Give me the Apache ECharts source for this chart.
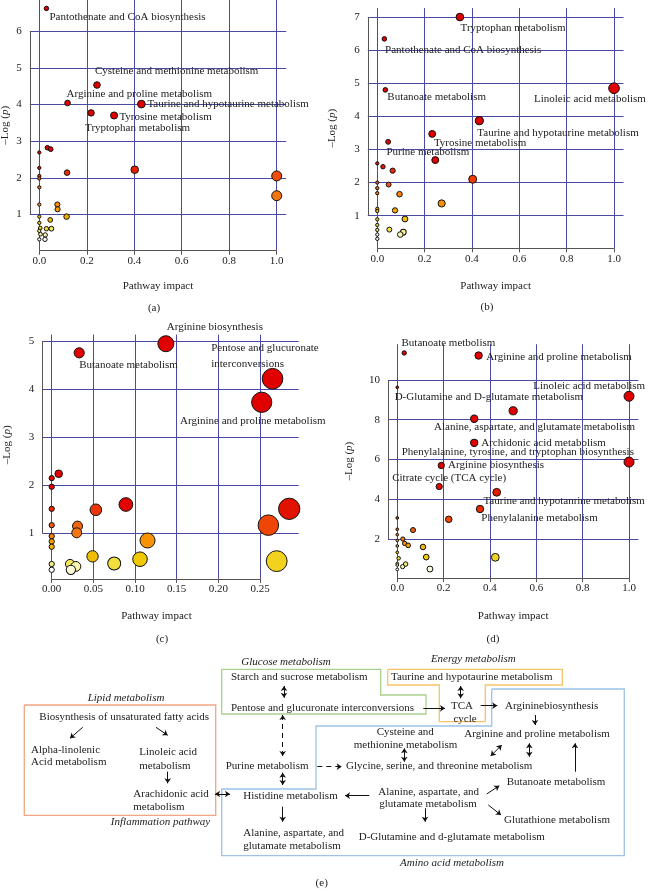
<!DOCTYPE html>
<html>
<head>
<meta charset="utf-8">
<script src="https://cdn.jsdelivr.net/npm/echarts@6/dist/echarts.min.js"></script>
<style>
html, body { margin: 0; padding: 0; background: #fff; }
#chart { width: 648px; height: 889px; }
</style>
</head>
<body>
<div id="chart"></div>
<script>
// ---------- data ----------
// (a)
const impactA = [0.03, 0.243, 0.119, 0.43, 0.218, 0.315, 0.034, 0.048, 0, 0, 0, 0, 0, 0.117, 0.402, 1.0, 1.0, 0, 0.076, 0.077, 0.115, 0, 0.046, 0, 0.004, 0.03, 0.051, 0, 0.005, 0.025, 0, 0.024];
const logpA = [6.62, 4.53, 4.04, 4.01, 3.77, 3.70, 2.82, 2.78, 2.69, 2.27, 2.05, 1.98, 1.74, 2.14, 2.22, 2.05, 1.51, 1.27, 1.27, 1.14, 0.94, 0.94, 0.85, 0.77, 0.63, 0.61, 0.61, 0.55, 0.46, 0.44, 0.32, 0.32];
const namesA = ['Pantothenate and CoA biosynthesis', 'Cysteine and methionine metabolism', 'Arginine and proline metabolism',
    'Taurine and hypotaurine metabolism', 'Tryptophan metabolism', 'Tyrosine metabolism'];
// (b)
const impactB = [0.349, 0.03, 0.034, 1.0, 0.431, 0.232, 0.046, 0.245, 0, 0.024, 0.065, 0.403, 0, 0.048, 0, 0, 0.094, 0.272, 0, 0, 0.075, 0.117, 0, 0, 0.051, 0, 0.11, 0.097, 0, 0];
const logpB = [7.0, 6.34, 4.80, 4.85, 3.87, 3.47, 3.23, 2.68, 2.58, 2.48, 2.36, 2.10, 2.0, 1.94, 1.83, 1.68, 1.65, 1.37, 1.21, 1.14, 1.16, 0.90, 0.89, 0.72, 0.58, 0.57, 0.50, 0.43, 0.43, 0.30];
const namesB = ['Tryptophan metabolism', 'Pantothenate and CoA biosynthesis', 'Butanoate metabolism', 'Linoleic acid metabolism',
    'Taurine and hypotaurine metabolism', 'Tyrosine metabolism', 'Purine metabolism'];
// (c)
const impactC = [0.137, 0.033, 0.265, 0.252, 0.0084, 0, 0, 0.089, 0.285, 0.053, 0, 0.031, 0.26, 0, 0.030, 0, 0, 0, 0.115, 0.049, 0.106, 0.075, 0.27, 0.022, 0.029, 0.023, 0, 0];
const logpC = [4.95, 4.76, 4.22, 3.73, 2.24, 2.15, 1.97, 1.60, 1.51, 1.49, 1.51, 1.15, 1.17, 1.17, 1.01, 0.94, 0.83, 0.72, 0.85, 0.52, 0.46, 0.37, 0.42, 0.36, 0.31, 0.24, 0.36, 0.24];
const namesC = ['Arginine biosynthesis', 'Butanoate metabolism', 'Pentose and glucuronate\ninterconversions', 'Arginine and proline metabolism'];
// (d)
const impactD = [0.03, 0.351, 0, 1.0, 0.5, 0.332, 0.332, 1.0, 0.19, 0.181, 0.429, 0.357, 0.222, 0, 0, 0.068, 0, 0.024, 0, 0.032, 0.047, 0, 0.111, 0, 0.125, 0.423, 0.006, 0, 0.036, 0, 0.023, 0, 0.141];
const logpD = [11.36, 11.23, 9.63, 9.18, 8.45, 8.05, 6.84, 5.87, 5.70, 4.64, 4.35, 3.51, 2.99, 3.06, 2.49, 2.45, 2.22, 2.0, 1.93, 1.78, 1.68, 1.65, 1.60, 1.33, 1.09, 1.08, 1.03, 0.77, 0.74, 0.69, 0.61, 0.47, 0.49];
const namesD = ['Butanoate metbolism', 'Arginine and proline metabolism', 'D-Glutamine and D-glutamate metabolism', 'Linoleic acid metabolism',
    '', 'Alanine, aspartate, and glutamate metabolism', 'Archidonic acid metabolism', 'Phenylalanine, tyrosine, and tryptophan biosynthesis',
    'Arginine biosynthesis', 'Citrate cycle (TCA cycle)', 'Taurine and hypotanrine metabolism', 'Phenylalanine metabolism'];

// tick labels
const xTicksUnit = [0, 0.2, 0.4, 0.6, 0.8, 1.0];
const xTicksC = [0, 0.05, 0.10, 0.15, 0.20, 0.25];
const yTicksA = [1, 2, 3, 4, 5, 6];
const yTicksB = [1, 2, 3, 4, 5, 6, 7];
const yTicksC = [1, 2, 3, 4, 5];
const yTicksD = [2, 4, 6, 8, 10];

// (e) pathway diagram text
const diagramTexts = ['Glucose metabolism', 'Energy metabolism', 'Lipid metabolism', 'Inflammation pathway', 'Amino acid metabolism',
    'Biosynthesis of unsaturated fatty acids', 'Alpha-linolenic', 'Acid metabolism', 'Linoleic acid', 'metabolism', 'Arachidonic acid', 'metabolism',
    'Starch and sucrose metabolism', 'Pentose and glucuronate interconversions', 'Taurine and hypotaurine metabolism', 'TCA', 'cycle',
    'Argininebiosynthesis', 'Arginine and proline metabolism', 'Cysteine and', 'methionine metabolism', 'Purine metabolism',
    'Glycine, serine, and threonine metabolism', 'Histidine metabolism', 'Alanine, aspartate, and', 'glutamate metabolism',
    'Butanoate metabolism', 'Glutathione metabolism', 'D-Glutamine and d-glutamate metabolism', 'Alanine, aspartate, and', 'glutamate metabolism',
    '(a)', '(b)', '(c)', '(d)', '(e)'];

// ---------- layout / style ----------
const serif = "'Liberation Serif','DejaVu Serif',serif";
const FS = 11;
const ink = '#222';
const gridBlue = '#4a4aa6';
const axisGrey = '#555';

// pixel boxes of the four plot regions, axis ranges (R adds 4% on each side), circle size rule, label offsets
const panelLayout = [
    { left: 29.8, top: 0, width: 256.4, height: 250.7, x: [-0.04, 1.04], y: [0.01, 6.85], size: [3.3, 6.7, 0.5],
      xGap: 30, yGap: 19, xPad: [0, 0, 0, 0], yPad: [0, 0, 0, 0],
      off: [[3, 9], [-2, -14], [-1, -9], [6, 0], [-6, 15], [5.3, 1.3]] },
    { left: 367.8, top: 8.1, width: 255.7, height: 240.2, x: [-0.04, 1.04], y: [0.015, 7.27], size: [3.3, 7.4, 0.5],
      xGap: 32, yGap: 30, xPad: [0, 0, 0, 0], yPad: [0, 0, 0, 0],
      off: [[0.7, 10.7], [0.7, 11.3], [2, 7.7], [-80, 11], [-2, 12.7], [1.7, 9.3], [-1.7, 10.7]] },
    { left: 42.2, top: 334.6, width: 256.5, height: 244.3, x: [-0.0114, 0.2964], y: [0.05, 5.14], size: [5.3, 16, 0.55],
      xGap: 32, yGap: 30, xPad: [0, 28, 0, 0], yPad: [0, 0, 0, 24],
      off: [[1, -16.7], [0, 12.7], [-61.3, -22.9], [-81.7, 19]] },
    { left: 388, top: 344.2, width: 250.3, height: 233.9, x: [-0.04, 1.04], y: [0.034, 11.8], size: [2.7, 7.3, 0.42],
      xGap: 33, yGap: 33.5, xPad: [0, 0, 0, 0], yPad: [0, 0, 0, 0],
      off: [[-2.7, -10.3], [7.7, 1.7], [-2.6, 9.3], [-95.7, -10.3], null, [-40.2, 7.9], [7, 0.7], [-227.3, -10], [6.7, 0], [-47, -8], [-13.3, 8.4], [1.3, 9]] }
];

// diagram text anchors: [x, y, align, italic]
const textLayout = [
    [286, 662, 'c', 1], [473.3, 659, 'c', 1], [126, 698, 'c', 1], [160.5, 822.3, 'c', 1], [452, 863.3, 'c', 1],
    [39.3, 716.7, 'l'], [31, 750, 'l'], [31, 761.7, 'l'], [139.3, 751.7, 'l'], [139.3, 765.7, 'l'], [133.3, 794, 'l'], [133.3, 807.3, 'l'],
    [231, 677.3, 'l'], [231, 707.7, 'l'], [391, 677.3, 'l'], [462, 705.7, 'c'], [465, 719.3, 'c'],
    [505, 705.7, 'l'], [464.3, 734.3, 'l'], [405.3, 731.7, 'c'], [405.5, 745, 'c'], [225.7, 765.7, 'l'],
    [346, 765.7, 'l'], [243.3, 795.7, 'l'], [378.3, 791.7, 'l'], [379.3, 804.3, 'l'],
    [506.7, 781.7, 'l'], [504, 820, 'l'], [358.7, 837.3, 'l'], [243.3, 832.7, 'l'], [243.3, 845.7, 'l'],
    [154, 308.3, 'c'], [487, 307, 'c'], [162, 639, 'c'], [493, 639, 'c'], [321.7, 883.3, 'c']
];
// arrows: [x1, y1, x2, y2, kind]  1 = head at end, 2 = both heads, 3 = dashed one head, 4 = dashed both
const arrowLayout = [
    [82.7, 727.3, 70, 738.3, 1], [156, 727.3, 167.7, 735.3, 1], [167.7, 771.7, 167.7, 783.3, 1], [215, 794, 230, 794, 2],
    [284, 686, 284, 697.7, 2], [423.3, 708.3, 445, 708.3, 1], [460.7, 686, 460.7, 698.3, 2], [480.7, 705.7, 497.3, 705.7, 1],
    [535, 715, 535, 725, 1], [404.3, 748.3, 404.3, 761.7, 2], [490.7, 756, 501.7, 745, 2], [529.3, 743.3, 529.3, 756.7, 2],
    [575, 771.7, 575, 743.3, 1], [317.3, 766.7, 341.7, 766.7, 3], [282.7, 715, 282.7, 756, 4], [282.7, 772.7, 282.7, 785, 2],
    [369.3, 795.7, 345, 795.7, 1], [486.7, 794, 499.3, 785.7, 1], [488.3, 805, 501, 815, 1], [425, 808.3, 425, 821.7, 1],
    [282.7, 806.7, 282.7, 821.7, 1]
];
const boxLayout = [
    { color: '#f4a582', pts: [[24.3, 705], [215.7, 705], [215.7, 815.3], [24.3, 815.3], [24.3, 705]] },
    { color: '#a9d18e', pts: [[221.7, 669.3], [380.7, 669.3], [380.7, 695], [426, 695], [426, 714], [221.7, 714], [221.7, 669.3]] },
    { color: '#f8c46a', pts: [[387.7, 669.3], [562.3, 669.3], [562.3, 685], [485.3, 685], [485.3, 721.7], [439.3, 721.7], [439.3, 685], [387.7, 685], [387.7, 669.3]] },
    { color: '#9dc3e6', pts: [[491.7, 689], [624.3, 689], [624.3, 855.7], [221.7, 855.7], [221.7, 789], [316, 789], [316, 726], [491.7, 726], [491.7, 689]] }
];

// heat colour ramp by significance rank (red -> yellow -> white)
const heatStops = [[0, '#e00000'], [0.26, '#e00000'], [0.32, '#e22000'], [0.38, '#ef3a04'], [0.47, '#f06010'], [0.54, '#f58010'],
    [0.60, '#f99500'], [0.68, '#f0b500'], [0.74, '#f0c800'], [0.82, '#f2e040'], [0.92, '#f8f4a8'], [1, '#ffffff']];

function hexRgb(h) { return [1, 3, 5].map(i => parseInt(h.slice(i, i + 2), 16)); }
function heat(q) {
    for (let i = 1; i < heatStops.length; i++) {
        const [q1, c1] = heatStops[i - 1], [q2, c2] = heatStops[i];
        if (q <= q2) {
            const t = q2 === q1 ? 0 : (q - q1) / (q2 - q1);
            const a = hexRgb(c1), b = hexRgb(c2);
            return 'rgb(' + a.map((v, k) => Math.round(v + (b[k] - v) * t)).join(',') + ')';
        }
    }
    return '#ffffff';
}
function ranks(vals) {
    const order = vals.map((v, i) => i).sort((a, b) => vals[b] - vals[a]);
    const r = [];
    order.forEach((k, j) => { r[k] = j; });
    return r;
}

const panels = [
    { impact: impactA, logp: logpA, names: namesA, xTicks: xTicksUnit, yTicks: yTicksA, dec: 1 },
    { impact: impactB, logp: logpB, names: namesB, xTicks: xTicksUnit, yTicks: yTicksB, dec: 1 },
    { impact: impactC, logp: logpC, names: namesC, xTicks: xTicksC, yTicks: yTicksC, dec: 2 },
    { impact: impactD, logp: logpD, names: namesD, xTicks: xTicksUnit, yTicks: yTicksD, dec: 1 }
];

const textBase = { fontFamily: serif, fontSize: FS, color: ink, opacity: 1 };
const grids = [], xAxes = [], yAxes = [], series = [];

panels.forEach((p, i) => {
    const L = panelLayout[i];
    grids.push({ left: L.left, top: L.top, width: L.width, height: L.height, outerBoundsMode: 'none' });
    xAxes.push({
        gridIndex: i, type: 'value', min: L.x[0], max: L.x[1],
        splitLine: { show: false }, axisLine: { show: false },
        axisTick: { show: true, customValues: p.xTicks, length: 4, lineStyle: { color: axisGrey, width: 1 } },
        axisLabel: Object.assign({ customValues: p.xTicks, margin: 5, formatter: v => v.toFixed(p.dec) }, textBase),
        name: 'Pathway impact', nameLocation: 'middle', nameGap: L.xGap, nameMoveOverlap: false,
        nameTextStyle: Object.assign({ padding: L.xPad }, textBase)
    });
    yAxes.push({
        gridIndex: i, type: 'value', min: L.y[0], max: L.y[1],
        splitLine: { show: false }, axisLine: { show: false },
        axisTick: { show: true, customValues: p.yTicks, length: 5, lineStyle: { color: axisGrey, width: 1 } },
        axisLabel: Object.assign({ customValues: p.yTicks, margin: 8 }, textBase),
        name: '\u2013Log ({i|p})', nameLocation: 'middle', nameGap: L.yGap, nameMoveOverlap: false,
        nameTextStyle: Object.assign({ padding: L.yPad, rich: { i: Object.assign({ fontStyle: 'italic' }, textBase) } }, textBase)
    });

    const xt = p.xTicks, yt = p.yTicks;
    // blue grid lines + R style axis lines (first tick to last tick), kept under the circles
    series.push({
        type: 'scatter', xAxisIndex: i, yAxisIndex: i, data: [], silent: true, z: 1,
        markLine: {
            z: 1, silent: true, symbol: ['none', 'none'], label: { show: false }, animation: false,
            lineStyle: { color: gridBlue, width: 1, type: 'solid', opacity: 1 },
            data: xt.map(v => ({ xAxis: v })).concat(yt.map(v => ({ yAxis: v }))).concat([
                [{ coord: [xt[0], L.y[0]], lineStyle: { color: axisGrey, width: 1, type: 'solid' } }, { coord: [xt[xt.length - 1], L.y[0]] }],
                [{ coord: [L.x[0], yt[0]], lineStyle: { color: axisGrey, width: 1, type: 'solid' } }, { coord: [L.x[0], yt[yt.length - 1]] }]
            ])
        }
    });

    const r = ranks(p.logp);
    const n = p.logp.length;
    const xmax = Math.max.apply(null, p.impact);
    series.push({
        type: 'scatter', xAxisIndex: i, yAxisIndex: i, silent: true, z: 10, animation: false,
        data: p.impact.map((x, k) => {
            const name = p.names[k] || '';
            const off = L.off[k];
            return {
                value: [x, p.logp[k]],
                symbolSize: L.size[0] + L.size[1] * Math.pow(x / xmax, L.size[2]),
                itemStyle: { color: heat(r[k] / (n - 1)), borderColor: '#111', borderWidth: 1, opacity: 1 },
                label: name ? Object.assign({
                    show: true, formatter: name, position: 'inside', align: 'left', verticalAlign: 'middle',
                    offset: off, lineHeight: 15.7
                }, textBase) : { show: false }
            };
        })
    });
});

// hidden full-page grid for the pathway diagram and panel letters
const D = panels.length;
grids.push({ left: 0, top: 0, width: 648, height: 889, outerBoundsMode: 'none' });
xAxes.push({ gridIndex: D, type: 'value', min: 0, max: 648, show: false });
yAxes.push({ gridIndex: D, type: 'value', min: 0, max: 889, inverse: true, show: false });

boxLayout.forEach(b => {
    series.push({
        type: 'lines', coordinateSystem: 'cartesian2d', xAxisIndex: D, yAxisIndex: D, polyline: true, silent: true, z: 2,
        symbol: 'none', lineStyle: { color: b.color, width: 1.3, opacity: 1 },
        data: [{ coords: b.pts }]
    });
});
const arrowKinds = {
    1: { symbol: ['none', 'arrow'], type: 'solid' },
    2: { symbol: ['arrow', 'arrow'], type: 'solid' },
    3: { symbol: ['none', 'arrow'], type: [5, 4] },
    4: { symbol: ['arrow', 'arrow'], type: [5, 4] }
};
Object.keys(arrowKinds).forEach(kind => {
    const k = arrowKinds[kind];
    series.push({
        type: 'lines', coordinateSystem: 'cartesian2d', xAxisIndex: D, yAxisIndex: D, silent: true, z: 3,
        symbol: k.symbol, symbolSize: 5,
        lineStyle: { color: '#111', width: 1, type: k.type, opacity: 1 },
        data: arrowLayout.filter(a => String(a[4]) === kind).map(a => ({ coords: [[a[0], a[1]], [a[2], a[3]]] }))
    });
});
series.push({
    type: 'scatter', xAxisIndex: D, yAxisIndex: D, silent: true, z: 4, symbolSize: 1,
    itemStyle: { color: 'rgba(0,0,0,0)', opacity: 1 },
    data: diagramTexts.map((t, i) => {
        const T = textLayout[i];
        return {
            value: [T[0], T[1]],
            label: Object.assign({
                show: true, formatter: t, position: 'inside', align: T[2] === 'l' ? 'left' : 'center', verticalAlign: 'middle',
                fontStyle: T[3] ? 'italic' : 'normal'
            }, textBase)
        };
    })
});

const chart = echarts.init(document.getElementById('chart'), null, { renderer: 'canvas' });
chart.setOption({
    animation: false,
    backgroundColor: '#fff',
    grid: grids,
    xAxis: xAxes,
    yAxis: yAxes,
    series: series
});
</script>
</body>
</html>
